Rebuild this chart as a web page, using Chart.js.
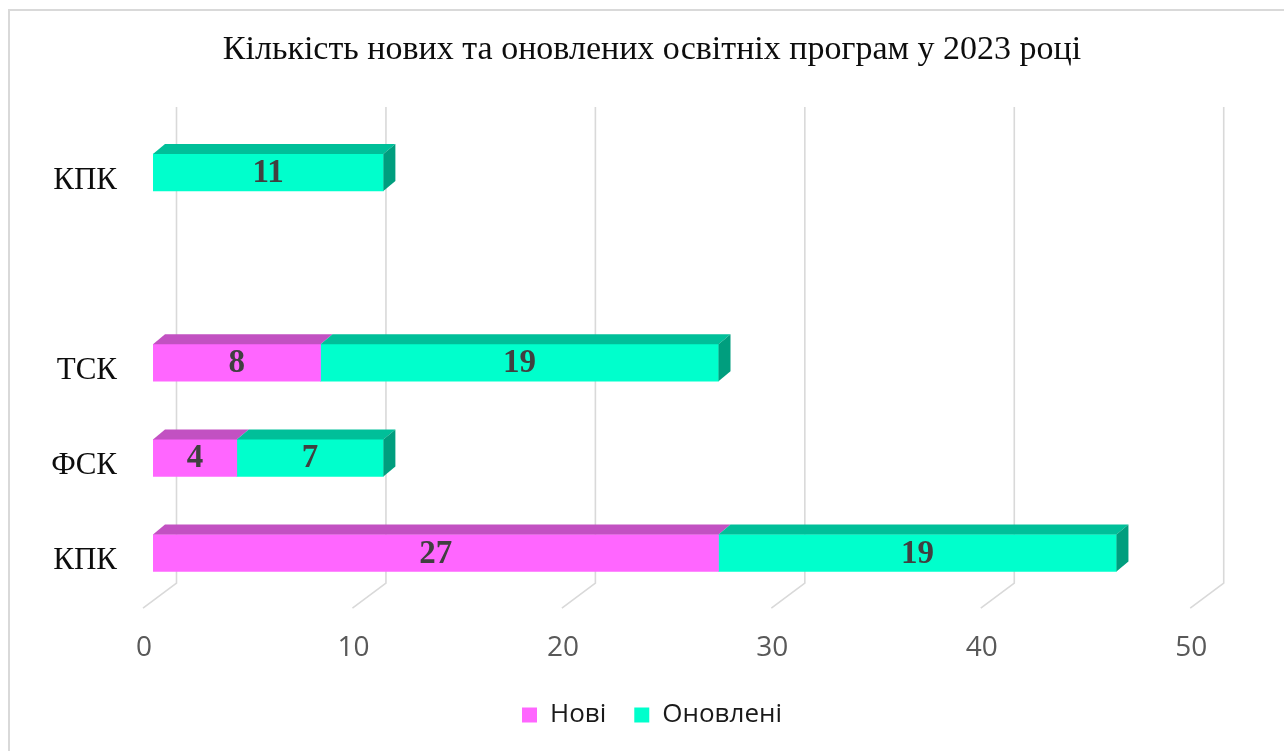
<!DOCTYPE html>
<html>
<head>
<meta charset="utf-8">
<script src="https://cdn.jsdelivr.net/npm/chart.js@4"></script>
<style>
html,body{margin:0;padding:0;background:#fff;overflow:hidden}
#wrap{width:1284px;height:751px;position:relative}
</style>
</head>
<body>
<div id="wrap"><canvas id="c" width="1284" height="751"></canvas></div>
<script>
// ---- data ----
const titleText = 'Кількість нових та оновлених освітніх програм у 2023 році';
const categories = ['КПК', '', 'ТСК', 'ФСК', 'КПК'];
const seriesNames = ['Нові', 'Оновлені'];
const newPrograms = [null, null, 8, 4, 27];
const updatedPrograms = [11, null, 19, 7, 19];
const xTickValues = [0, 10, 20, 30, 40, 50];

// ---- styles ----
const frontColors = ['#FF66FF', '#00FFCC'];
const topColors = ['#C251C2', '#00BF99'];
const sideColors = ['#A040A0', '#009E7E'];
const DEPTH_X = 12, DEPTH_Y = 10;

const framePlugin = {
  id: 'frame',
  beforeDraw(chart) {
    const ctx = chart.ctx;
    ctx.save();
    ctx.fillStyle = '#ffffff';
    ctx.fillRect(0, 0, chart.width, chart.height);
    ctx.strokeStyle = '#d9d9d9';
    ctx.lineWidth = 2;
    ctx.strokeRect(9, 10, chart.width + 100, chart.height + 100);
    ctx.restore();
  }
};

const grid3dPlugin = {
  id: 'grid3d',
  beforeDatasetsDraw(chart) {
    const ctx = chart.ctx, xs = chart.scales.x, ca = chart.chartArea;
    ctx.save();
    ctx.strokeStyle = '#d9d9d9';
    ctx.lineWidth = 1.6;
    xTickValues.forEach(v => {
      const px = xs.getPixelForValue(v) + 23.5;
      ctx.beginPath();
      ctx.moveTo(px, ca.top - 18);
      ctx.lineTo(px, ca.bottom - 17.5);
      ctx.lineTo(px - 33.5, ca.bottom + 7.5);
      ctx.stroke();
    });
    ctx.restore();
  }
};

const bar3dPlugin = {
  id: 'bar3d',
  afterDatasetsDraw(chart) {
    const ctx = chart.ctx;
    const n = chart.data.datasets.length;
    ctx.save();
    for (let i = 0; i < n; i++) {
      const meta = chart.getDatasetMeta(i);
      meta.data.forEach((el, j) => {
        const val = chart.data.datasets[i].data[j];
        if (val === null || val === undefined || val === 0) return;
        const p = el.getProps(['x', 'y', 'base', 'height'], true);
        const left = Math.min(p.x, p.base), right = Math.max(p.x, p.base);
        const top = p.y - p.height / 2, bottom = p.y + p.height / 2;
        ctx.fillStyle = topColors[i];
        ctx.beginPath();
        ctx.moveTo(left, top);
        ctx.lineTo(right, top);
        ctx.lineTo(right + DEPTH_X, top - DEPTH_Y);
        ctx.lineTo(left + DEPTH_X, top - DEPTH_Y);
        ctx.closePath();
        ctx.fill();
        let isEnd = true;
        for (let k = i + 1; k < n; k++) {
          const v2 = chart.data.datasets[k].data[j];
          if (v2 !== null && v2 !== undefined && v2 !== 0) isEnd = false;
        }
        if (isEnd) {
          ctx.fillStyle = sideColors[i];
          ctx.beginPath();
          ctx.moveTo(right, top);
          ctx.lineTo(right + DEPTH_X, top - DEPTH_Y);
          ctx.lineTo(right + DEPTH_X, bottom - DEPTH_Y);
          ctx.lineTo(right, bottom);
          ctx.closePath();
          ctx.fill();
        }
      });
    }
    ctx.fillStyle = '#404040';
    ctx.font = 'bold 33px "Liberation Serif"';
    ctx.textAlign = 'center';
    ctx.textBaseline = 'middle';
    for (let i = 0; i < n; i++) {
      const meta = chart.getDatasetMeta(i);
      meta.data.forEach((el, j) => {
        const val = chart.data.datasets[i].data[j];
        if (val === null || val === undefined || val === 0) return;
        const p = el.getProps(['x', 'y', 'base'], true);
        ctx.fillText(String(val), (p.x + p.base) / 2, p.y + 1);
      });
    }
    ctx.restore();
  }
};

new Chart(document.getElementById('c'), {
  type: 'bar',
  data: {
    labels: categories,
    datasets: [
      { label: seriesNames[0], data: newPrograms, backgroundColor: frontColors[0], borderWidth: 0 },
      { label: seriesNames[1], data: updatedPrograms, backgroundColor: frontColors[1], borderWidth: 0 }
    ]
  },
  options: {
    indexAxis: 'y',
    responsive: false,
    animation: false,
    devicePixelRatio: 1,
    layout: { padding: { left: 20, right: 0, top: 0, bottom: 13 } },
    datasets: { bar: { barThickness: 37 } },
    scales: {
      x: {
        type: 'linear',
        stacked: true,
        min: 0,
        max: 54,
        afterBuildTicks(s) { s.ticks = xTickValues.map(v => ({ value: v })); },
        afterFit(s) { s.height = 73.4; },
        grid: { display: false, drawTicks: false },
        border: { display: false },
        ticks: {
          color: '#595959',
          font: { family: 'Open Sans', size: 28 },
          padding: 30.6,
          labelOffset: -9,
          maxRotation: 0
        }
      },
      y: {
        type: 'category',
        stacked: true,
        afterFit(s) { s.width = 133; },
        grid: { display: false, drawTicks: false },
        border: { display: false },
        ticks: {
          color: '#0d0d0d',
          font: { family: 'Liberation Serif', size: 31 },
          padding: 36,
          labelOffset: 8
        }
      }
    },
    plugins: {
      title: {
        display: true,
        text: titleText,
        color: '#0d0d0d',
        font: { family: 'Liberation Serif', size: 34, weight: 'normal' },
        padding: { top: 29.5, bottom: 54.6 }
      },
      legend: {
        position: 'bottom',
        labels: {
          color: '#1a1a1a',
          font: { family: 'Open Sans', size: 26 },
          boxWidth: 15,
          boxHeight: 15,
          padding: 28
        }
      },
      tooltip: { enabled: false }
    }
  },
  plugins: [framePlugin, grid3dPlugin, bar3dPlugin]
});
</script>
</body>
</html>
